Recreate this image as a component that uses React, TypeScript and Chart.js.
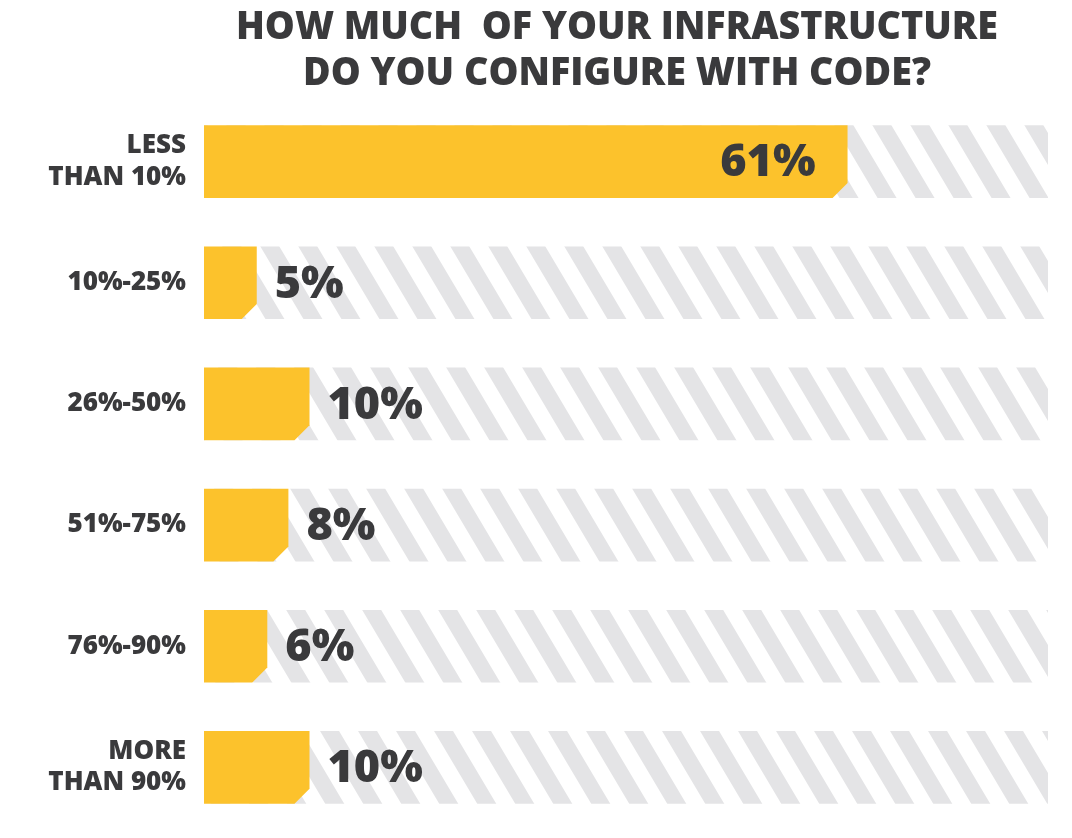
import React, { useEffect, useRef } from "react";
import { Chart, registerables } from "chart.js";

Chart.register(...registerables);

const titleLines = ["HOW MUCH  OF YOUR INFRASTRUCTURE", "DO YOU CONFIGURE WITH CODE?"];
const categories: (string | string[])[] = [
  ["LESS", "THAN 10%"],
  "10%-25%",
  "26%-50%",
  "51%-75%",
  "76%-90%",
  ["MORE", "THAN 90%"],
];
const values = [61, 5, 10, 8, 6, 10];
const trackValues = [80, 80, 80, 80, 80, 80];
const axisMax = 80;

const YELLOW = "#FCC22C";
const DARK = "#3a3a3c";
const STRIPE = "#e4e4e6";

function makeStripePattern(): CanvasPattern | string {
  const w = 38;
  const h = 64;
  const sw = 19;
  const c = document.createElement("canvas");
  c.width = w;
  c.height = h;
  const ctx = c.getContext("2d");
  if (!ctx) return STRIPE;
  ctx.fillStyle = "#ffffff";
  ctx.fillRect(0, 0, w, h);
  ctx.fillStyle = STRIPE;
  for (let k = -2; k <= 1; k++) {
    ctx.beginPath();
    ctx.moveTo(k * w, 0);
    ctx.lineTo(k * w + sw, 0);
    ctx.lineTo(k * w + sw + w, h);
    ctx.lineTo(k * w + w, h);
    ctx.closePath();
    ctx.fill();
  }
  const p = ctx.createPattern(c, "repeat");
  return p || STRIPE;
}

const titlePlugin = {
  id: "customTitle",
  afterDraw(chart: any) {
    const ctx = chart.ctx;
    ctx.save();
    ctx.font = "800 38px 'Open Sans'";
    ctx.fillStyle = DARK;
    ctx.textAlign = "center";
    ctx.textBaseline = "middle";
    const cx = 617;
    titleLines.forEach((line, i) => {
      const w = ctx.measureText(line).width;
      const target = i === 0 ? 762 : 628;
      const sx = Math.min(1, target / w);
      ctx.save();
      ctx.translate(cx, 28 + i * 46);
      ctx.scale(sx, 1);
      ctx.fillText(line, 0, 0);
      ctx.restore();
    });
    ctx.restore();
  },
};

const chamferPlugin = {
  id: "chamferBars",
  beforeDatasetDraw(chart: any, args: any) {
    if (args.index !== 0) return;
    const ctx = chart.ctx;
    const meta = chart.getDatasetMeta(0);
    const cut = 15;
    ctx.save();
    ctx.fillStyle = YELLOW;
    meta.data.forEach((el: any) => {
      const p = el.getProps(["x", "y", "base", "height"], true);
      const left = p.base;
      const right = p.x;
      const top = p.y - p.height / 2;
      const bottom = p.y + p.height / 2;
      ctx.beginPath();
      ctx.moveTo(left, top);
      ctx.lineTo(right, top);
      ctx.lineTo(right, bottom - cut);
      ctx.lineTo(right - cut, bottom);
      ctx.lineTo(left, bottom);
      ctx.closePath();
      ctx.fill();
    });
    ctx.restore();
    return false;
  },
};

const valueLabelPlugin = {
  id: "valueLabels",
  afterDatasetsDraw(chart: any) {
    const ctx = chart.ctx;
    const meta = chart.getDatasetMeta(0);
    ctx.save();
    ctx.font = "800 45px 'Open Sans'";
    ctx.fillStyle = DARK;
    ctx.textBaseline = "middle";
    meta.data.forEach((el: any, i: number) => {
      const v = values[i];
      const txt = v + "%";
      if (v > 30) {
        ctx.textAlign = "right";
        ctx.fillText(txt, el.x - 32, el.y + 2);
      } else {
        ctx.textAlign = "left";
        ctx.fillText(txt, el.x + 18, el.y + 2);
      }
    });
    ctx.restore();
  },
};

export default function App() {
  const ref = useRef<HTMLCanvasElement | null>(null);
  useEffect(() => {
    document.body.style.margin = "0";
    if (!ref.current) return;
    const pattern = makeStripePattern();
    const chart = new Chart(ref.current, {
      type: "bar",
      data: {
        labels: categories,
        datasets: [
          {
            data: values,
            backgroundColor: YELLOW,
            order: 0,
            grouped: false,
            barPercentage: 0.6,
            categoryPercentage: 1,
          } as any,
          {
            data: trackValues,
            backgroundColor: pattern as any,
            order: 1,
            grouped: false,
            barPercentage: 0.6,
            categoryPercentage: 1,
          } as any,
        ],
      },
      options: {
        indexAxis: "y",
        responsive: false,
        animation: false,
        layout: { padding: { left: 0, right: 24, top: 101, bottom: 10 } },
        plugins: {
          legend: { display: false },
          tooltip: { enabled: false },
          title: { display: false },
        },
        scales: {
          x: { min: 0, max: axisMax, display: false },
          y: {
            grid: { display: false, drawTicks: false },
            border: { display: false },
            afterFit: (scale: any) => {
              scale.width = 204;
              scale.paddingTop = 0;
              scale.paddingBottom = 0;
            },
            ticks: {
              color: DARK,
              padding: 18,
              font: { family: "'Open Sans'", size: 26, weight: "800", lineHeight: 1.2 },
            },
          },
        },
      },
      plugins: [chamferPlugin, valueLabelPlugin, titlePlugin],
    });
    return () => chart.destroy();
  }, []);
  return (
    <div style={{ width: 1072, height: 838 }}>
      <canvas ref={ref} width={1072} height={838} />
    </div>
  );
}
